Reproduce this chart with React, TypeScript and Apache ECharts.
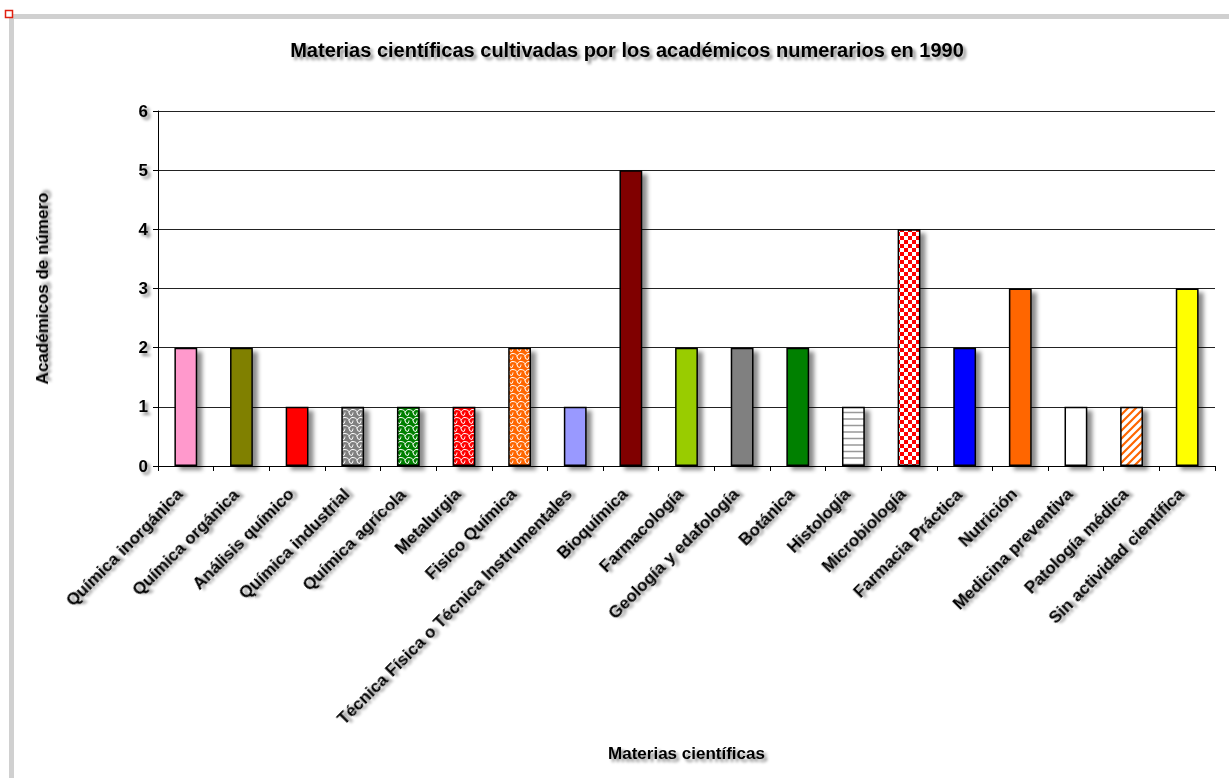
import React, { useEffect, useRef } from "react";
import * as echarts from "echarts";

const TITLE = "Materias científicas cultivadas por los académicos numerarios en 1990";
const X_NAME = "Materias científicas";
const Y_NAME = "Académicos de número";

const categories = [
  "Química inorgánica",
  "Química orgánica",
  "Análisis químico",
  "Química industrial",
  "Química agrícola",
  "Metalurgia",
  "Fisico Química",
  "Técnica Física o Técnica Instrumentales",
  "Bioquímica",
  "Farmacología",
  "Geología y edafología",
  "Botánica",
  "Histología",
  "Microbiología",
  "Farmacia Práctica",
  "Nutrición",
  "Medicina preventiva",
  "Patología médica",
  "Sin actividad científica",
];

const values = [2, 2, 1, 1, 1, 1, 2, 1, 5, 2, 2, 2, 1, 4, 2, 3, 1, 1, 3];

// fill: plain colour, or pattern name with colour
const fills = [
  "#ff99cc",
  "#808000",
  "#ff0000",
  "wave:#808080",
  "wave:#008000",
  "wave:#ff0000",
  "wave:#ff6600",
  "#9999ff",
  "#800000",
  "#99cc00",
  "#808080",
  "#008000",
  "hlines:#999999",
  "checker:#ff0000",
  "#0000ff",
  "#ff6600",
  "#ffffff",
  "diag:#ff6600",
  "#ffff00",
];

const yTicks = [0, 1, 2, 3, 4, 5, 6];

const FONT = "'Liberation Sans', Arial, sans-serif";

function tile(w: number, h: number, bg: string, draw: (c: CanvasRenderingContext2D) => void) {
  const cv = document.createElement("canvas");
  cv.width = w;
  cv.height = h;
  const c = cv.getContext("2d")!;
  c.fillStyle = bg;
  c.fillRect(0, 0, w, h);
  draw(c);
  return { image: cv, repeat: "repeat", imageWidth: w, imageHeight: h };
}

function makeFill(spec: string): any {
  if (!spec.includes(":")) return spec;
  const [kind, col] = spec.split(":");
  if (kind === "wave") {
    return tile(8, 8, col, (c) => {
      c.strokeStyle = "#ffffff";
      c.lineWidth = 1;
      c.beginPath();
      c.moveTo(0, 1.5);
      c.quadraticCurveTo(5, 1.5, 5, 4.5);
      c.quadraticCurveTo(5, 7.5, 8, 7.5);
      c.moveTo(5, 4.5);
      c.quadraticCurveTo(6.5, 1.5, 8, 1.5);
      c.moveTo(0, 7.5);
      c.quadraticCurveTo(1, 5.5, 1, 4.5);
      c.stroke();
    });
  }
  if (kind === "hlines") {
    return tile(8, 13, "#ffffff", (c) => {
      c.strokeStyle = col;
      c.lineWidth = 1.3;
      c.beginPath();
      c.moveTo(0, 3);
      c.lineTo(8, 3);
      c.moveTo(0, 9.5);
      c.lineTo(8, 9.5);
      c.stroke();
    });
  }
  if (kind === "checker") {
    return tile(8, 8, "#ffffff", (c) => {
      c.fillStyle = col;
      c.fillRect(0, 0, 4, 4);
      c.fillRect(4, 4, 4, 4);
    });
  }
  if (kind === "diag") {
    return tile(8, 8, "#ffffff", (c) => {
      c.strokeStyle = col;
      c.lineWidth = 2.2;
      c.beginPath();
      c.moveTo(-2, 10);
      c.lineTo(10, -2);
      c.moveTo(-6, 6);
      c.lineTo(6, -6);
      c.moveTo(2, 14);
      c.lineTo(14, 2);
      c.stroke();
    });
  }
  return col;
}

const textShadow = {
  textShadowColor: "rgba(0,0,0,0.45)",
  textShadowBlur: 3,
  textShadowOffsetX: 3,
  textShadowOffsetY: 3,
};

export default function App() {
  const ref = useRef<HTMLDivElement>(null);
  useEffect(() => {
    const chart = echarts.init(ref.current!, null, { renderer: "svg" });
    const data = values.map((v, i) => ({
      value: v,
      itemStyle: { color: makeFill(fills[i]) },
    }));
    chart.setOption({
      animation: false,
      backgroundColor: "#ffffff",
      title: {
        text: TITLE,
        left: 622,
        top: 35,
        textAlign: "center",
        textStyle: {
          fontFamily: FONT,
          fontSize: 20,
          fontWeight: "bold",
          color: "#000",
          ...textShadow,
        },
      },
      grid: { left: 158, right: 14, top: 111, bottom: 312, containLabel: false },
      xAxis: {
        type: "category",
        data: categories,
        name: X_NAME,
        nameLocation: "middle",
        nameGap: 279,
        nameTextStyle: { fontFamily: FONT, fontSize: 17, fontWeight: "bold", color: "#000", ...textShadow },
        axisLine: { lineStyle: { color: "#000", width: 1 } },
        axisTick: { show: true, length: 5, lineStyle: { color: "#000" } },
        axisLabel: {
          rotate: 45,
          interval: 0,
          margin: 20,
          padding: [0, 8, 0, 0],
          fontFamily: FONT,
          fontSize: 17,
          fontWeight: "bold",
          color: "#000",
          ...textShadow,
        },
      },
      yAxis: {
        type: "value",
        min: 0,
        max: 6,
        interval: 1,
        name: Y_NAME,
        nameLocation: "middle",
        nameGap: 107,
        nameRotate: 90,
        nameTextStyle: { fontFamily: FONT, fontSize: 17, fontWeight: "bold", color: "#000", ...textShadow },
        axisLine: { show: true, lineStyle: { color: "#000", width: 1 } },
        axisTick: { show: true, length: 5, lineStyle: { color: "#000" } },
        axisLabel: {
          margin: 10,
          fontFamily: FONT,
          fontSize: 17,
          fontWeight: "bold",
          color: "#000",
          formatter: (v: number) => (yTicks.includes(v) ? String(v) : ""),
          ...textShadow,
        },
        splitLine: {
          show: true,
          lineStyle: { color: "#222", width: 1 },
        },
      },
      series: [
        {
          type: "bar",
          data,
          barWidth: "41%",
          itemStyle: {
            borderColor: "#000",
            borderWidth: 1.5,
            shadowColor: "rgba(0,0,0,0.45)",
            shadowBlur: 4,
            shadowOffsetX: 5,
            shadowOffsetY: 4,
          },
        },
      ],
      graphic: [
        { type: "rect", shape: { x: 13, y: 14, width: 1216, height: 5 }, style: { fill: "#d0d0d0" }, silent: true },
        { type: "rect", shape: { x: 9, y: 14, width: 5, height: 764 }, style: { fill: "#d0d0d0" }, silent: true },
        {
          type: "rect",
          shape: { x: 5.5, y: 10.5, width: 7, height: 7 },
          style: { fill: "#ffffff", stroke: "#e02010", lineWidth: 1.5 },
          silent: true,
        },
      ],
    });
    return () => chart.dispose();
  }, []);
  return (
    <div
      ref={ref}
      style={{ position: "absolute", left: 0, top: 0, width: 1229, height: 778 }}
    />
  );
}
